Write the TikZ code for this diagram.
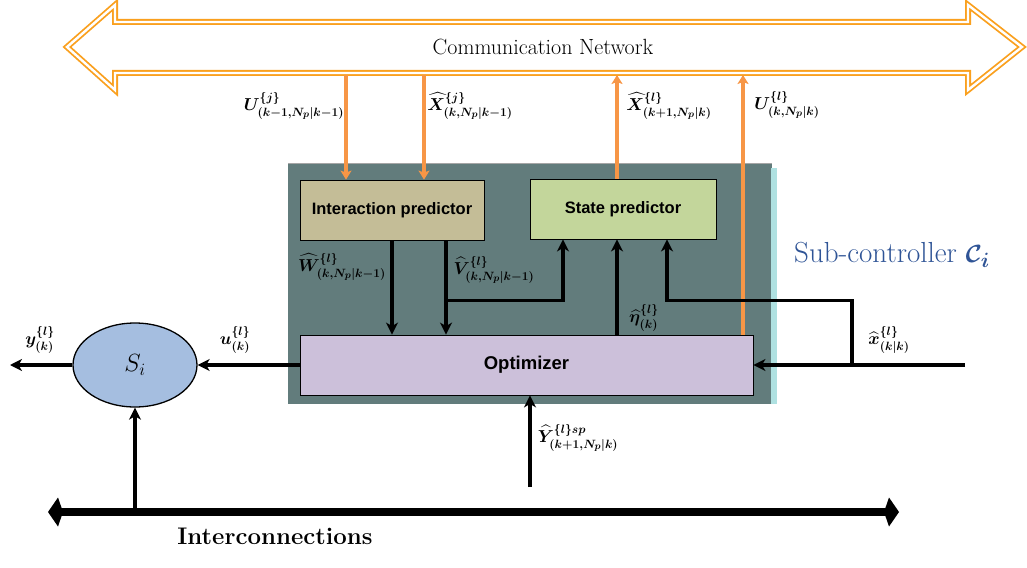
\documentclass[tikz,border=0pt]{standalone}
\usepackage{amsmath}
\usepackage{fontspec}
\newfontfamily\arialf{Liberation Sans}
\usetikzlibrary{arrows.meta,calc,shapes.geometric}
\DeclareMathSizes{16}{16}{12.5}{10}
\definecolor{netor}{RGB}{250,160,30}
\definecolor{arror}{RGB}{247,150,70}
\definecolor{panel}{RGB}{98,124,124}
\definecolor{strip}{RGB}{175,225,225}
\definecolor{ipc}{RGB}{196,189,151}
\definecolor{spc}{RGB}{195,214,155}
\definecolor{optc}{RGB}{204,192,218}
\definecolor{sic}{RGB}{165,190,224}
\definecolor{subc}{RGB}{47,84,150}
\newcommand{\bsym}[1]{\ensuremath{\boldsymbol{#1}}}
\begin{document}
\begin{tikzpicture}[x=1pt,y=-1pt,
  box/.style={draw=black, line width=0.8pt, minimum height=60pt, inner sep=0pt,
    font=\arialf\bfseries\fontsize{16.5}{18}\selectfont},
  blk/.style={line width=3.3pt, -{Stealth[length=12pt,width=12pt,inset=3.5pt]}},
  org/.style={arror, line width=3.8pt, -{Stealth[length=9pt,width=11pt,inset=2pt]}},
  lab/.style={font=\fontsize{16}{18}\selectfont, inner sep=1pt}
]
\useasboundingbox (0,0) rectangle (1027,567);

% communication network
\draw[netor, line width=1.8pt, double=white, double distance=2.4pt, line join=miter]
  (67,47) -- (115,5) -- (115,22) -- (968,22) -- (968,5) -- (1022,47)
  -- (968,90) -- (968,73) -- (115,73) -- (115,90) -- cycle;
\node[font=\fontsize{22}{24}\selectfont] (net) at (543,47) {Communication Network};
\coordinate (netb) at (0,75);

% panel
\fill[panel] (288,163) rectangle (772,404);
\fill[strip] (771,168) rectangle (777,404);
\draw[gray!70, line width=0.8pt] (288,163) -- (772,163);

% blocks
\node[box, fill=ipc, minimum width=184pt] (ip) at (392,210) {Interaction predictor};
\node[box, fill=spc, minimum width=186pt] (sp) at (623,209) {State predictor};
\node[box, fill=optc, minimum width=453pt, font=\arialf\bfseries\fontsize{18.5}{20}\selectfont] (opt) at (526.5,365) {Optimizer};
\node[ellipse, draw, line width=1.3pt, fill=sic, minimum width=124pt, minimum height=84pt, inner sep=0pt] (si) at (135,365) {\fontsize{23}{25}\selectfont$S_i$};

% orange connectors
\coordinate (o1) at ($(ip.north)+(-46,0)$);
\coordinate (o2) at ($(ip.north)+(32,0)$);
\coordinate (o3) at ($(sp.north)+(-6,0)$);
\coordinate (o4) at ($(opt.north)+(216.5,0)$);
\draw[org] (o1 |- netb) -- (o1);
\draw[org] (o2 |- netb) -- (o2);
\draw[org] (o3) -- (o3 |- netb);
\draw[org] (o4) -- (o4 |- netb);

% black connectors
\draw[blk] (ip.south) -- (ip.south |- opt.north);
\coordinate (v) at ($(ip.south)+(54,0)$);
\draw[blk] (v) -- (v |- opt.north);
\coordinate (vb) at ($(v)+(-1.6,60)$);
\coordinate (sv) at ($(sp.south)+(-60,0)$);
\draw[blk] (vb) -| (sv);
\coordinate (eta) at ($(opt.north)+(90.5,0)$);
\draw[blk] (eta) -- (eta |- sp.south);
\coordinate (xin) at (965,365);
\draw[blk] (xin) -- (opt.east);
\coordinate (br) at (852,366.6);
\coordinate (sx) at ($(sp.south)+(44,0)$);
\coordinate (sxb) at ($(sx)+(0,61)$);
\draw[blk] (br) |- (sxb) -- (sx);
\draw[blk] (opt.west) -- (si.east);
\coordinate (yend) at (10,365);
\draw[blk] (si.west) -- (yend);
\coordinate (yb) at (530,487);
\draw[blk] (yb) -- (yb |- opt.south);

% interconnections
\coordinate (icl) at (48,512);
\coordinate (icr) at (899,512);
\draw[line width=8pt, {Kite[length=15pt,width=29pt,inset=5pt]}-{Kite[length=15pt,width=29pt,inset=5pt]}] (icl) -- (icr);
\coordinate (sib) at (si.south |- icl);
\draw[blk] (sib) -- (si.south);
\node[font=\bfseries\fontsize{24}{26}\selectfont] (ictext) at (275,536) {Interconnections};

% labels
\node[lab] (lu1) at (294,106) {\bsym{U^{\{j\}}_{(k-1,N_p\vert k-1)}}};
\node[lab] (lx1) at (470,106) {\bsym{\widehat{X}^{\{j\}}_{(k,N_p\vert k-1)}}};
\node[lab] (lx2) at (669,106) {\bsym{\widehat{X}^{\{l\}}_{(k+1,N_p\vert k)}}};
\node[lab] (lu2) at (787,105) {\bsym{U^{\{l\}}_{(k,N_p\vert k)}}};
\node[lab] (lw) at (342,267) {\bsym{\widehat{W}^{\{l\}}_{(k,N_p\vert k-1)}}};
\node[lab] (lv) at (494,270) {\bsym{\widehat{V}^{\{l\}}_{(k,N_p\vert k-1)}}};
\node[lab] (leta) at (644,318) {\bsym{\widehat{\eta}^{\{l\}}_{(k)}}};
\node[lab] (lxh) at (889,340) {\bsym{\widehat{x}^{\{l\}}_{(k\vert k)}}};
\node[lab] (lu) at (235,340) {\bsym{u^{\{l\}}_{(k)}}};
\node[lab] (ly) at (40,340) {\bsym{y^{\{l\}}_{(k)}}};
\node[lab] (lysp) at (578,438) {\bsym{\widehat{Y}^{\{l\}sp}_{(k+1,N_p\vert k)}}};
\node[text=subc, font=\fontsize{29}{31}\selectfont] (sub) at (892,255) {Sub-controller \bsym{\mathcal{C}_i}};
\end{tikzpicture}
\end{document}
